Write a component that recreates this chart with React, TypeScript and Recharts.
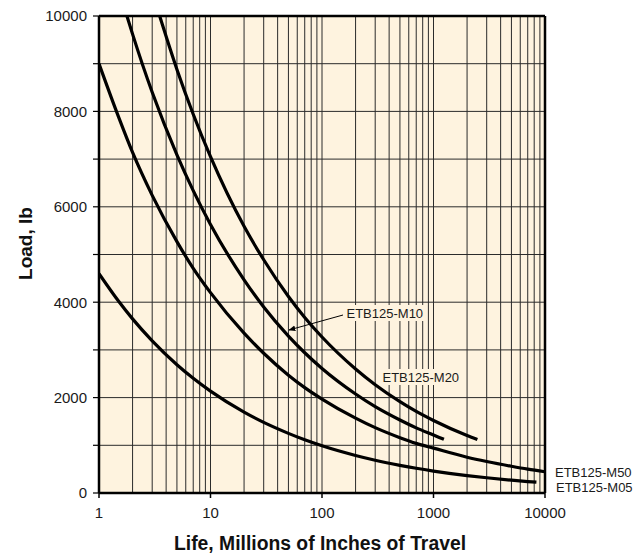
import React from 'react';
import { LineChart, Line, XAxis, YAxis, CartesianGrid, ReferenceLine } from 'recharts';

// life (millions of inches) vs load (lb)
const m50Life = [1, 1.5, 2, 3, 5, 7, 10, 20, 30, 50, 70, 100, 200, 300, 500, 700, 1000, 2000, 3000, 5000, 7000, 10000];
const m50Load = [9000, 7880, 7140, 6240, 5270, 4710, 4200, 3350, 2930, 2470, 2210, 1970, 1570, 1370, 1160, 1040, 940, 750, 660, 560, 500, 445];

const m10Life = [1.78, 2, 3, 5, 7, 10, 20, 30, 50, 70, 100, 200, 300, 500, 700, 1000, 1240];
const m10Load = [10000, 9620, 8400, 7090, 6340, 5630, 4470, 3900, 3290, 2940, 2610, 2075, 1810, 1530, 1365, 1215, 1125];

const m20Life = [3.5, 5, 7, 10, 20, 30, 50, 70, 100, 200, 300, 500, 700, 1000, 2000, 2475];
const m20Load = [10000, 8880, 7940, 7050, 5590, 4890, 4120, 3680, 3270, 2600, 2270, 1915, 1710, 1520, 1205, 1120];

const m05Life = [1, 1.5, 2, 3, 5, 7, 10, 20, 30, 50, 70, 100, 200, 300, 500, 700, 1000, 2000, 3000, 5000, 7000, 8375];
const m05Load = [4600, 4020, 3650, 3190, 2690, 2405, 2135, 1695, 1480, 1250, 1115, 990, 787, 687, 580, 518, 460, 365, 319, 269, 240, 227];

const xTicks = [
  1, 2, 3, 4, 5, 6, 7, 8, 9,
  10, 20, 30, 40, 50, 60, 70, 80, 90,
  100, 200, 300, 400, 500, 600, 700, 800, 900,
  1000, 2000, 3000, 4000, 5000, 6000, 7000, 8000, 9000,
  10000,
];
const xLabels = [1, 10, 100, 1000, 10000];
const yTicks = [0, 1000, 2000, 3000, 4000, 5000, 6000, 7000, 8000, 9000, 10000];

const toPoints = (life: number[], load: number[]) => life.map((x, i) => ({ life: x, load: load[i] }));

const series = [
  { name: 'ETB125-M50', data: toPoints(m50Life, m50Load) },
  { name: 'ETB125-M10', data: toPoints(m10Life, m10Load) },
  { name: 'ETB125-M20', data: toPoints(m20Life, m20Load) },
  { name: 'ETB125-M05', data: toPoints(m05Life, m05Load) },
];

const FONT = '"Liberation Sans", Arial, Helvetica, sans-serif';
const BG = '#FEF3DF';

const XTick = (props: any) => {
  const { x, y, payload } = props;
  if (!xLabels.includes(payload.value)) return <g />;
  return (
    <g>
      <line x1={x} x2={x} y1={y - 8} y2={y - 3} stroke="#000" strokeWidth={1.5} />
      <text x={x} y={y + 17} textAnchor="middle" fontSize={15} fill="#1a1a1a" fontFamily={FONT}>
        {payload.value}
      </text>
    </g>
  );
};

export default function App() {
  return (
    <div style={{ position: 'relative', width: 626, height: 548, fontFamily: FONT }}>
      <LineChart width={626} height={540} margin={{ top: 8, right: 89, bottom: 25, left: 1 }}>
        <CartesianGrid stroke="#2b2b2b" strokeWidth={1} fill={BG} fillOpacity={1} />
        <XAxis
          dataKey="life"
          type="number"
          scale="log"
          domain={[1, 10000]}
          ticks={xTicks}
          interval={0}
          allowDataOverflow
          height={30}
          tickLine={false}
          tick={<XTick />}
          axisLine={{ stroke: '#000', strokeWidth: 2.5 }}
        />
        <YAxis
          type="number"
          domain={[0, 10000]}
          ticks={yTicks}
          interval={0}
          width={90}
          tickSize={6}
          tickMargin={6}
          tickLine={{ stroke: '#000', strokeWidth: 1.2 }}
          tick={{ fontSize: 15, fill: '#1a1a1a', fontFamily: FONT }}
          tickFormatter={(v: number) => (v % 2000 === 0 ? String(v) : '')}
          axisLine={{ stroke: '#000', strokeWidth: 2.5 }}
        />
        <ReferenceLine y={10000} stroke="#000" strokeWidth={2.5} />
        <ReferenceLine x={10000} stroke="#000" strokeWidth={2.5} />
        {series.map((s) => (
          <Line
            key={s.name}
            data={s.data}
            dataKey="load"
            name={s.name}
            type="monotone"
            stroke="#000"
            strokeWidth={3.2}
            dot={false}
            isAnimationActive={false}
          />
        ))}
      </LineChart>
      <svg
        width={626}
        height={548}
        style={{ position: 'absolute', left: 0, top: 0, pointerEvents: 'none', overflow: 'visible' }}
        fontFamily={FONT}
      >
        <defs>
          <marker id="arrow" viewBox="0 0 10 10" refX="9" refY="5" markerWidth="7" markerHeight="7" orient="auto">
            <path d="M0,1 L10,5 L0,9 z" fill="#000" />
          </marker>
        </defs>
        <rect x={335} y={297} width={84} height={16} fill={BG} />
        <text x={338.5} y={309.5} fontSize={13} fill="#1a1a1a">ETB125-M10</text>
        <line x1={335} y1={307} x2={281} y2={322} stroke="#000" strokeWidth={1} markerEnd="url(#arrow)" />
        <rect x={372} y={361} width={84} height={16} fill={BG} />
        <text x={374.5} y={373.5} fontSize={13} fill="#1a1a1a">ETB125-M20</text>
        <text x={547} y={468.5} fontSize={13} fill="#1a1a1a">ETB125-M50</text>
        <text x={548} y={483.5} fontSize={13} fill="#1a1a1a">ETB125-M05</text>
        <text
          transform="translate(18, 235.5) rotate(-90)"
          textAnchor="middle"
          dy={6}
          fontSize={18}
          fontWeight="bold"
          fill="#111"
          textLength={73}
          lengthAdjust="spacingAndGlyphs"
        >
          Load, lb
        </text>
        <text
          x={166}
          y={542}
          fontSize={20}
          fontWeight="bold"
          fill="#111"
          textLength={292}
          lengthAdjust="spacingAndGlyphs"
        >
          Life, Millions of Inches of Travel
        </text>
      </svg>
    </div>
  );
}
